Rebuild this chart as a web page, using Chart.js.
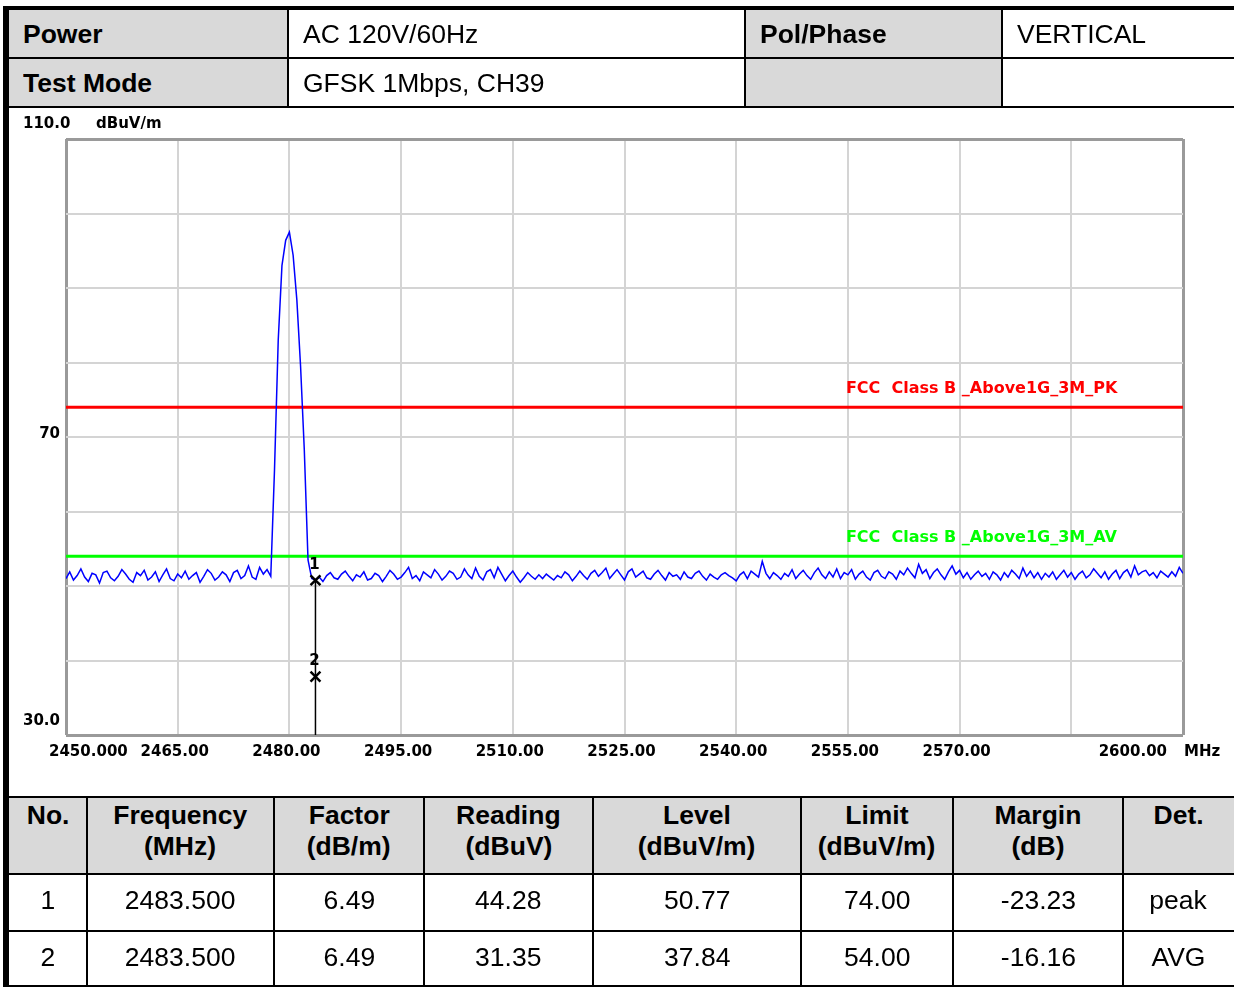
<!DOCTYPE html>
<html>
<head>
<meta charset="utf-8">
<title>Radiated emission - GFSK 1Mbps CH39</title>
<script src="https://cdn.jsdelivr.net/npm/chart.js@4.4.0/dist/chart.umd.min.js"></script>
<style>
  html, body { margin: 0; padding: 0; background: #fff; }
  body { width: 1234px; height: 987px; position: relative; overflow: hidden;
         font-family: "Liberation Sans", Arial, sans-serif; color: #000; }
  #plot { position: absolute; left: 0; top: 0; }
  .rule { position: absolute; background: #000; }
  .cell { position: absolute; box-sizing: border-box; font-size: 25px; white-space: nowrap; }
  .grey { background: #d9d9d9; }
  .cell span { display: inline-block; transform: scaleX(1.06); }
  .left span { transform-origin: left center; }
  .center { text-align: center; }
  .center span { transform-origin: center center; }
  .bold { font-weight: bold; }
</style>
</head>
<body>
<canvas id="plot" width="1234" height="987"></canvas>
<div id="tables"></div>

<script>
// Header info
const INFO_LABELS = ['Power', 'Test Mode', 'Pol/Phase', ''];
const INFO_VALUES = ['AC 120V/60Hz', 'GFSK 1Mbps, CH39', 'VERTICAL', ''];

// Trace: sweep from 2450 MHz in 0.5 MHz steps (dBuV/m)
const FREQ_START = 2450;
const FREQ_STEP = 0.5;
const TRACE_LEVEL = [
  51.0, 51.9, 50.8, 51.4, 52.3, 51.2, 50.6, 51.7, 51.5, 50.4,
  51.8, 52.0, 51.1, 50.7, 51.3, 52.2, 51.6, 50.9, 50.5, 51.8,
  51.4, 52.1, 50.8, 51.2, 51.9, 50.6, 51.5, 52.3, 51.0, 50.7,
  51.6, 51.1, 52.0, 50.9, 51.4, 51.8, 50.5, 51.3, 52.2, 51.7,
  50.8, 51.2, 51.9, 51.5, 50.6, 51.8, 52.1, 51.0, 51.4, 52.7,
  51.2, 50.9, 52.5, 51.6, 52.2, 51.3,
  65.6, 83.0, 93.0, 96.4, 97.5, 94.4, 88.4, 79.5, 68.3, 53.5, 51.0,
  50.8,
  51.2, 50.6, 51.4, 51.8, 51.1, 50.9, 51.6, 52.0, 51.3, 50.7,
  51.5, 51.2, 51.9, 50.8, 51.0, 51.7, 51.4, 50.6, 51.3, 52.1,
  51.6, 50.9, 51.2, 51.8, 52.5, 51.0, 51.4, 50.7, 51.9, 51.5,
  51.1, 52.2, 51.6, 50.8, 51.3, 52.0, 51.7, 50.9, 51.2, 52.3,
  51.5, 51.0, 52.4, 51.3, 50.8, 51.9, 52.2, 51.1, 52.5, 51.6,
  50.7, 51.4, 52.0, 51.2, 50.5, 51.1, 51.8, 51.3, 50.9, 51.5,
  51.0, 51.6, 51.2, 50.8, 51.4, 51.1, 51.9, 51.5, 50.7, 51.3,
  52.0, 51.4, 50.9, 51.7, 52.1, 51.3, 51.8, 52.4, 51.0, 51.6,
  52.2, 51.5, 50.8, 51.9, 52.3, 51.2, 51.6, 52.0, 51.1, 50.9,
  51.6, 52.1, 51.4, 50.8, 51.8, 51.3, 51.5, 50.9, 51.9, 51.2,
  51.0, 51.7, 52.0, 51.3, 50.8, 51.6, 51.2, 50.9, 51.5, 51.8,
  51.4, 51.1, 50.7, 51.5, 51.9, 51.0, 52.0, 51.6, 51.2, 53.3,
  51.7, 51.0, 51.8, 51.4, 50.9, 51.7, 51.3, 52.2, 51.0, 51.6,
  52.1, 51.4, 50.9, 51.8, 52.4, 51.5, 51.0, 51.9, 51.2, 52.3,
  51.0, 51.8, 51.5, 52.2, 50.9, 51.6, 52.0, 51.2, 50.8, 51.8,
  52.1, 51.3, 51.0, 51.9, 51.6, 50.9, 52.0, 51.5, 52.4, 51.7,
  51.1, 52.9, 51.7, 52.2, 51.0, 51.8, 52.3, 51.5, 50.9, 51.9,
  52.7, 51.6, 52.1, 51.1, 51.8, 50.9, 51.5, 52.0, 51.3, 51.7,
  50.9, 51.9, 51.5, 50.8, 51.8, 51.2, 52.1, 51.6, 51.0, 52.4,
  51.3, 52.0, 51.1, 51.8, 50.9, 51.7, 51.2, 51.9, 50.9, 51.5,
  52.1, 51.2, 51.8, 50.9, 51.6, 52.0, 51.1, 51.5, 52.3, 51.7,
  51.1, 51.9, 50.9, 51.6, 52.1, 51.0, 51.8, 52.2, 51.2, 52.7,
  51.5, 51.9, 52.1, 51.4, 51.8, 51.1, 52.0, 51.6, 51.2, 51.9,
  51.3, 52.5, 51.7, 51.9
];

// Limit lines
const LIMIT_NAMES = ['FCC  Class B _Above1G_3M_PK', 'FCC  Class B _Above1G_3M_AV'];
const LIMIT_LEVELS = [74, 54];
const LIMIT_LABEL_FREQ = 2555;

// Markers
const MARKER_NO = ['1', '2'];
const MARKER_FREQ = [2483.5, 2483.5];
const MARKER_LEVEL = [50.77, 37.84];

// Axes
const X_TICKS = [2450, 2465, 2480, 2495, 2510, 2525, 2540, 2555, 2570, 2600];
const X_TICK_LABELS = ['2450.000', '2465.00', '2480.00', '2495.00', '2510.00', '2525.00',
                       '2540.00', '2555.00', '2570.00', '2600.00'];
const Y_TICKS = [110, 70, 30];
const Y_TICK_LABELS = ['110.0', '70', '30.0'];
const Y_UNIT = 'dBuV/m';
const X_UNIT = 'MHz';

// Result table
const COL_HEAD = [['No.'], ['Frequency', '(MHz)'], ['Factor', '(dB/m)'], ['Reading', '(dBuV)'],
                  ['Level', '(dBuV/m)'], ['Limit', '(dBuV/m)'], ['Margin', '(dB)'], ['Det.']];
const RES_NO = ['1', '2'];
const RES_FREQ = ['2483.500', '2483.500'];
const RES_FACTOR = ['6.49', '6.49'];
const RES_READING = ['44.28', '31.35'];
const RES_LEVEL = ['50.77', '37.84'];
const RES_LIMIT = ['74.00', '54.00'];
const RES_MARGIN = ['-23.23', '-16.16'];
const RES_DET = ['peak', 'AVG'];

// ---------- tables (plain DOM) ----------
const host = document.getElementById('tables');

function rule(x, y, w, h) {
    const d = document.createElement('div');
    d.className = 'rule';
    d.style.cssText = `left:${x}px;top:${y}px;width:${w}px;height:${h}px`;
    host.appendChild(d);
}

function cell(x, y, w, h, lines, cls, padTop, padLeft) {
    const d = document.createElement('div');
    d.className = 'cell ' + cls;
    d.style.cssText = `left:${x}px;top:${y}px;width:${w}px;height:${h}px;` +
        `padding-top:${padTop}px;padding-left:${padLeft || 0}px;line-height:31px`;
    d.innerHTML = lines.map(t => `<span>${t}</span>`).join('<br>');
    host.appendChild(d);
}

// top info table
const infoCols = [9, 288, 745, 1002, 1234];
const infoRows = [10, 58, 107];
cell(infoCols[0], infoRows[0], infoCols[1] - infoCols[0], 48, [INFO_LABELS[0]], 'grey bold left', 9, 14);
cell(infoCols[1], infoRows[0], infoCols[2] - infoCols[1], 48, [INFO_VALUES[0]], 'left', 9, 15);
cell(infoCols[2], infoRows[0], infoCols[3] - infoCols[2], 48, [INFO_LABELS[2]], 'grey bold left', 9, 15);
cell(infoCols[3], infoRows[0], infoCols[4] - infoCols[3], 48, [INFO_VALUES[2]], 'left', 9, 15);
cell(infoCols[0], infoRows[1], infoCols[1] - infoCols[0], 49, [INFO_LABELS[1]], 'grey bold left', 10, 14);
cell(infoCols[1], infoRows[1], infoCols[2] - infoCols[1], 49, [INFO_VALUES[1]], 'left', 10, 15);
cell(infoCols[2], infoRows[1], infoCols[3] - infoCols[2], 49, [INFO_LABELS[3]], 'grey bold left', 10, 15);
cell(infoCols[3], infoRows[1], infoCols[4] - infoCols[3], 49, [INFO_VALUES[3]], 'left', 10, 15);
rule(3, 6, 1231, 4);
rule(9, 57, 1225, 2);
rule(9, 106, 1225, 2);
[287, 744, 1001].forEach(x => rule(x, 10, 2, 97));

// bottom result table
const resCols = [9, 87, 274, 424, 593, 801, 953, 1123, 1234];
const resRows = [798, 874, 931, 987];
for (let c = 0; c < 8; c++) {
    cell(resCols[c], resRows[0], resCols[c + 1] - resCols[c], resRows[1] - resRows[0],
         COL_HEAD[c], 'grey bold center', 2);
}
const resData = [RES_NO, RES_FREQ, RES_FACTOR, RES_READING, RES_LEVEL, RES_LIMIT, RES_MARGIN, RES_DET];
for (let r = 0; r < 2; r++) {
    for (let c = 0; c < 8; c++) {
        cell(resCols[c], resRows[r + 1], resCols[c + 1] - resCols[c], resRows[r + 2] - resRows[r + 1],
             [resData[c][r]], 'center', 11);
    }
}
rule(9, 796, 1225, 2);
rule(9, 873, 1225, 2);
rule(9, 930, 1225, 2);
rule(9, 985, 1225, 2);
[86, 273, 423, 592, 800, 952, 1122].forEach(x => rule(x, 796, 2, 191));
rule(3, 6, 6, 981);   // thick left frame

// ---------- chart ----------
const tracePoints = TRACE_LEVEL.map((v, i) => ({ x: FREQ_START + i * FREQ_STEP, y: v }));
const X_MIN = 2450, X_MAX = 2600, Y_MIN = 30, Y_MAX = 110;

const edgeAware = (lo, hi, edge, inner) => c =>
    (c.tick && (c.tick.value === lo || c.tick.value === hi)) ? edge : inner;

const textPlugin = {
    id: 'analyzerText',
    afterDraw(chart) {
        const { ctx, scales: { x, y } } = chart;
        ctx.save();
        ctx.textBaseline = 'middle';
        ctx.fillStyle = '#000';
        ctx.font = 'bold 15px "DejaVu Sans"';

        // y labels
        ctx.textAlign = 'left';
        ctx.fillText(Y_TICK_LABELS[0], 23, y.getPixelForValue(Y_TICKS[0]) - 15);
        ctx.fillText(Y_UNIT, 96, y.getPixelForValue(Y_TICKS[0]) - 15);
        ctx.textAlign = 'right';
        ctx.fillText(Y_TICK_LABELS[1], 60, y.getPixelForValue(Y_TICKS[1]) - 3);
        ctx.fillText(Y_TICK_LABELS[2], 60, y.getPixelForValue(Y_TICKS[2]) - 14);

        // x labels
        const ly = y.getPixelForValue(Y_MIN) + 17;
        X_TICKS.forEach((v, i) => {
            const px = x.getPixelForValue(v);
            if (i === 0) { ctx.textAlign = 'left'; ctx.fillText(X_TICK_LABELS[i], px - 17, ly); }
            else if (i === X_TICKS.length - 1) { ctx.textAlign = 'right'; ctx.fillText(X_TICK_LABELS[i], px - 16, ly); }
            else { ctx.textAlign = 'center'; ctx.fillText(X_TICK_LABELS[i], px - 3, ly); }
        });
        ctx.textAlign = 'left';
        ctx.fillText(X_UNIT, x.getPixelForValue(X_MAX) + 1, ly);

        // limit names
        ctx.font = 'bold 16px "DejaVu Sans"';
        ['#ff0000', '#00ff00'].forEach((col, i) => {
            ctx.fillStyle = col;
            ctx.fillText(LIMIT_NAMES[i], x.getPixelForValue(LIMIT_LABEL_FREQ) - 2,
                         y.getPixelForValue(LIMIT_LEVELS[i]) - 18);
        });

        // marker numbers
        ctx.fillStyle = '#000';
        ctx.font = 'bold 15px "DejaVu Sans"';
        ctx.textAlign = 'center';
        MARKER_NO.forEach((n, i) => {
            ctx.fillText(n, x.getPixelForValue(MARKER_FREQ[i]) - 1, y.getPixelForValue(MARKER_LEVEL[i]) - 15);
        });
        ctx.restore();
    }
};

new Chart(document.getElementById('plot').getContext('2d'), {
    type: 'line',
    data: {
        datasets: [
            {
                data: tracePoints, borderColor: '#0000ff', borderWidth: 1.5,
                pointRadius: 0, tension: 0, order: 2
            },
            {
                data: [{ x: X_MIN, y: LIMIT_LEVELS[0] }, { x: X_MAX, y: LIMIT_LEVELS[0] }],
                borderColor: '#ff0000', borderWidth: 3, pointRadius: 0, order: 3
            },
            {
                data: [{ x: X_MIN, y: LIMIT_LEVELS[1] }, { x: X_MAX, y: LIMIT_LEVELS[1] }],
                borderColor: '#00ff00', borderWidth: 3, pointRadius: 0, order: 3
            },
            {
                data: [{ x: MARKER_FREQ[0], y: MARKER_LEVEL[0] }, { x: MARKER_FREQ[0], y: Y_MIN }],
                borderColor: '#000', borderWidth: 1.5, pointRadius: 0, order: 1
            },
            {
                data: MARKER_FREQ.map((f, i) => ({ x: f, y: MARKER_LEVEL[i] })),
                showLine: false, pointStyle: 'crossRot', pointRadius: 7,
                pointBorderColor: '#000', pointBorderWidth: 2.5, order: 0
            }
        ]
    },
    options: {
        responsive: false,
        animation: false,
        events: [],
        layout: { padding: { left: 66, top: 139, right: 51, bottom: 252 } },
        plugins: { legend: { display: false }, tooltip: { enabled: false } },
        scales: {
            x: {
                type: 'linear', min: X_MIN, max: X_MAX,
                ticks: { stepSize: 15, display: false },
                grid: {
                    drawTicks: false,
                    color: edgeAware(X_MIN, X_MAX, '#9a9a9a', '#d4d4d4'),
                    lineWidth: edgeAware(X_MIN, X_MAX, 3, 2)
                },
                border: { display: false }
            },
            y: {
                min: Y_MIN, max: Y_MAX,
                ticks: { stepSize: 10, display: false },
                grid: {
                    drawTicks: false,
                    color: edgeAware(Y_MIN, Y_MAX, '#9a9a9a', '#d4d4d4'),
                    lineWidth: edgeAware(Y_MIN, Y_MAX, 3, 2)
                },
                border: { display: false }
            }
        }
    },
    plugins: [textPlugin]
});
</script>
</body>
</html>
